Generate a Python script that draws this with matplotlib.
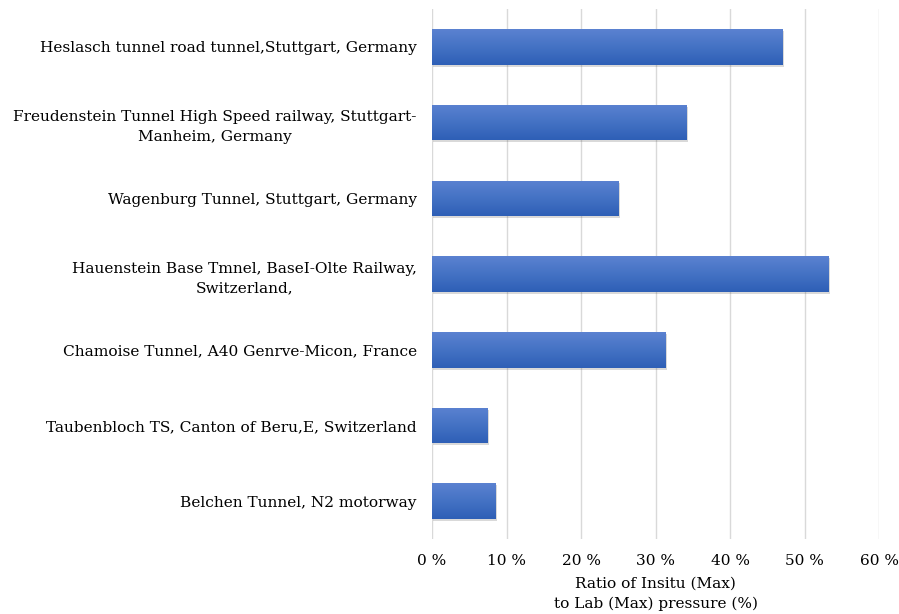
import numpy as np
import matplotlib.pyplot as plt
from matplotlib import patheffects
from matplotlib.colors import LinearSegmentedColormap

plt.rcParams['font.family'] = ['DejaVu Serif']

tunnels = [
    "Heslasch tunnel road tunnel,Stuttgart, Germany",
    "Freudenstein Tunnel High Speed railway, Stuttgart-\nManheim, Germany",
    "Wagenburg Tunnel, Stuttgart, Germany",
    "Hauenstein Base Tmnel, BaseI-Olte Railway,\nSwitzerland,",
    "Chamoise Tunnel, A40 Genrve-Micon, France",
    "Taubenbloch TS, Canton of Beru,E, Switzerland",
    "Belchen Tunnel, N2 motorway",
]
ratio = [47.1, 34.2, 25.0, 53.2, 31.3, 7.4, 8.5]
xticks = [0, 10, 20, 30, 40, 50, 60]

fs = 11.1

fig = plt.figure(figsize=(8.99, 6.14), dpi=100)
ax = fig.add_axes([0.4806, 0.1221, 0.4972, 0.8632])

y = np.arange(len(tunnels))
bars = ax.barh(y, ratio, height=0.47, color='#4472c4', zorder=2)

# vertical gradient inside each bar, light on top
grad = LinearSegmentedColormap.from_list('bar', ['#5b82d1', '#4472c4', '#2e5fb6'])
g = np.linspace(0, 1, 256).reshape(-1, 1)
for b in bars:
    b.set_path_effects([patheffects.SimplePatchShadow(offset=(1, -1.5), alpha=0.2, shadow_rgbFace='#444444'),
                        patheffects.Normal()])
    x0, y0 = b.get_x(), b.get_y()
    im = ax.imshow(g, cmap=grad, aspect='auto', origin='upper',
                   extent=[x0, x0 + b.get_width(), y0 + b.get_height(), y0], zorder=3)
    im.set_clip_path(b)

ax.set_xlim(0, 60)
ax.set_ylim(len(tunnels) - 0.5, -0.5)
ax.set_xticks(xticks)
ax.set_xticklabels([f"{v} %" for v in xticks], fontsize=fs)
ax.set_yticks(y)
ax.set_yticklabels(tunnels, fontsize=fs, multialignment='center', linespacing=1.5)
ax.tick_params(length=0, axis='y', pad=11)
ax.tick_params(length=0, axis='x', pad=11)
ax.grid(axis='x', color='#d9d9d9', linewidth=1, zorder=0)
ax.set_axisbelow(True)
for s in ax.spines.values():
    s.set_visible(False)

ax.set_xlabel("Ratio of Insitu (Max)\nto Lab (Max) pressure (%)", fontsize=fs, labelpad=6,
              linespacing=1.5)

fig.savefig('out.png', dpi=100)
